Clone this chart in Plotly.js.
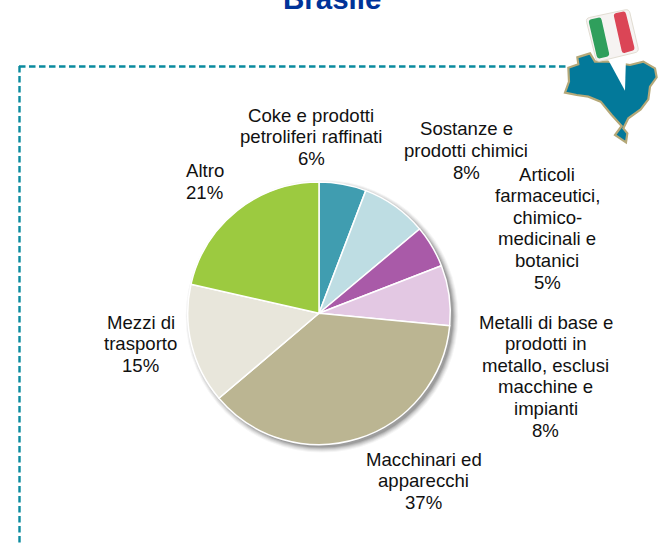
<!DOCTYPE html>
<html>
<head>
<meta charset="utf-8">
<script src="https://cdn.plot.ly/plotly-3.0.1.min.js"></script>
<style>html,body{margin:0;padding:0;background:#fff;overflow:hidden}#c{width:658px;height:543px}</style>
</head>
<body>
<div id="c"></div>
<script>
var categories = [
  "Coke e prodotti petroliferi raffinati",
  "Sostanze e prodotti chimici",
  "Articoli farmaceutici, chimico-medicinali e botanici",
  "Metalli di base e prodotti in metallo, esclusi macchine e impianti",
  "Macchinari ed apparecchi",
  "Mezzi di trasporto",
  "Altro"
];
var labelLines = [
  ["Coke e prodotti", "petroliferi raffinati", "6%"],
  ["Sostanze e", "prodotti chimici", "8%"],
  ["Articoli", "farmaceutici,", "chimico-", "medicinali e", "botanici", "5%"],
  ["Metalli di base e", "prodotti in", "metallo, esclusi", "macchine e", "impianti", "8%"],
  ["Macchinari ed", "apparecchi", "37%"],
  ["Mezzi di", "trasporto", "15%"],
  ["Altro", "21%"]
];
var values = [5.8, 8.1, 5.2, 7.4, 37.3, 14.75, 21.45];
var colors = ["#409DB0", "#BEDDE3", "#A95AA8", "#E3C8E3", "#BBB592", "#E8E6DB", "#9CCA40"];
var labelX = [311, 466, 547, 545.5, 423.5, 140.5, 205];
var labelTop = [115, 129, 174, 322, 459, 322, 171];
var titleText = "Brasile";

var W = 658, H = 543;
var cx = 319, cy = 313.3, R = 131.3;
var lineGap = 21.6;
function fx(x){return x / W;}
function fy(y){return 1 - y / H;}
function pt(p){return fx(p[0]).toFixed(5) + "," + fy(p[1]).toFixed(5);}
function path(pts){
  return pts.map(function(p, i){return (i ? "L" : "M") + pt(p);}).join(" ") + " Z";
}
function rounded(pts, r){
  var n = pts.length, d = "";
  pts.forEach(function(p, i){
    var a = pts[(i + n - 1) % n], b = pts[(i + 1) % n];
    var la = Math.hypot(a[0]-p[0], a[1]-p[1]), lb = Math.hypot(b[0]-p[0], b[1]-p[1]);
    var s = [p[0] + (a[0]-p[0]) * r / la, p[1] + (a[1]-p[1]) * r / la];
    var e = [p[0] + (b[0]-p[0]) * r / lb, p[1] + (b[1]-p[1]) * r / lb];
    d += (i ? " L" : "M") + pt(s) + " Q" + pt(p) + " " + pt(e);
  });
  return d + " Z";
}
function z(pts){return pts.map(function(p){return [540 + p[0] / 3, p[1] / 3];});}
function deco(o){o.xref = "paper"; o.yref = "paper"; return o;}

var shapes = [];
// soft shadow behind the pie
[[6,0.04],[5,0.05],[4,0.06],[3,0.08],[2,0.10],[1,0.12]].forEach(function(s){
  shapes.push(deco({type:"circle", layer:"below",
    x0:fx(cx-R+1-s[0]+3), x1:fx(cx+R-1+s[0]+3), y0:fy(cy+R-1+s[0]+3), y1:fy(cy-R+1-s[0]+3),
    fillcolor:"rgba(0,0,0,"+s[1]+")", line:{width:0}}));
});
// dashed frame
shapes.push(deco({type:"line", x0:fx(19), x1:fx(568), y0:fy(66.5), y1:fy(66.5), line:{color:"#0B8A9E", width:2.4, dash:"6.5px,3.5px"}}));
shapes.push(deco({type:"line", x0:fx(19.5), x1:fx(19.5), y0:fy(66), y1:fy(543), line:{color:"#0B8A9E", width:2.4, dash:"6.5px,3.5px"}}));
// Brazil silhouette
var brazil = z([[85,203],[115,193],[112,172],[150,160],[165,185],[205,185],[270,195],[310,185],[345,205],[350,232],[330,260],[325,298],[302,328],[265,355],[250,385],[262,400],[258,427],[225,405],[245,378],[215,345],[182,305],[145,290],[110,285],[75,278],[87,245]]);
shapes.push(deco({type:"path", path:path(brazil), fillcolor:"#03799A", line:{color:"#B5A878", width:2.2}}));
// pin
shapes.push(deco({type:"path", path:path(z([[205,180],[255,272],[258,170]])), fillcolor:"#FFFFFF", line:{width:0}}));
shapes.push(deco({type:"path", path:rounded(z([[137,55],[267,27],[297,155],[170,186]]), 4), fillcolor:"#F6F3F2", line:{color:"#E2DDD2", width:1}}));
shapes.push(deco({type:"path", path:rounded(z([[145,60],[183,51],[209,168],[172,177]]), 3), fillcolor:"#2F9F5C", line:{width:0}}));
shapes.push(deco({type:"path", path:rounded(z([[220,41],[256,33],[285,150],[247,161]]), 3), fillcolor:"#DB4556", line:{width:0}}));

var annotations = [];
labelLines.forEach(function(lines, i){
  lines.forEach(function(t, k){
    annotations.push({text:t, xref:"paper", yref:"paper", x:fx(labelX[i]), y:fy(labelTop[i] + k * lineGap),
      xanchor:"center", yanchor:"middle", showarrow:false,
      font:{family:"Liberation Sans, Arial, sans-serif", size:18.6, color:"#111111"}});
  });
});
annotations.push({text:"<b>" + titleText + "</b>", xref:"paper", yref:"paper", x:fx(332), y:fy(-2),
  xanchor:"center", yanchor:"middle", showarrow:false,
  font:{family:"Liberation Sans, Arial, sans-serif", size:29.5, color:"#003399"}});

Plotly.newPlot("c", [{
  type:"pie", labels:categories, values:values, sort:false, direction:"clockwise", rotation:0,
  marker:{colors:colors, line:{color:"#FFFFFF", width:1.5}},
  textinfo:"none", hoverinfo:"skip", showlegend:false,
  domain:{x:[fx(cx-R), fx(cx+R)], y:[fy(cy+R), fy(cy-R)]}
}], {
  width:W, height:H, margin:{l:0,r:0,t:0,b:0}, paper_bgcolor:"#FFFFFF", showlegend:false,
  shapes:shapes, annotations:annotations
}, {displayModeBar:false, staticPlot:true});
</script>
</body>
</html>
